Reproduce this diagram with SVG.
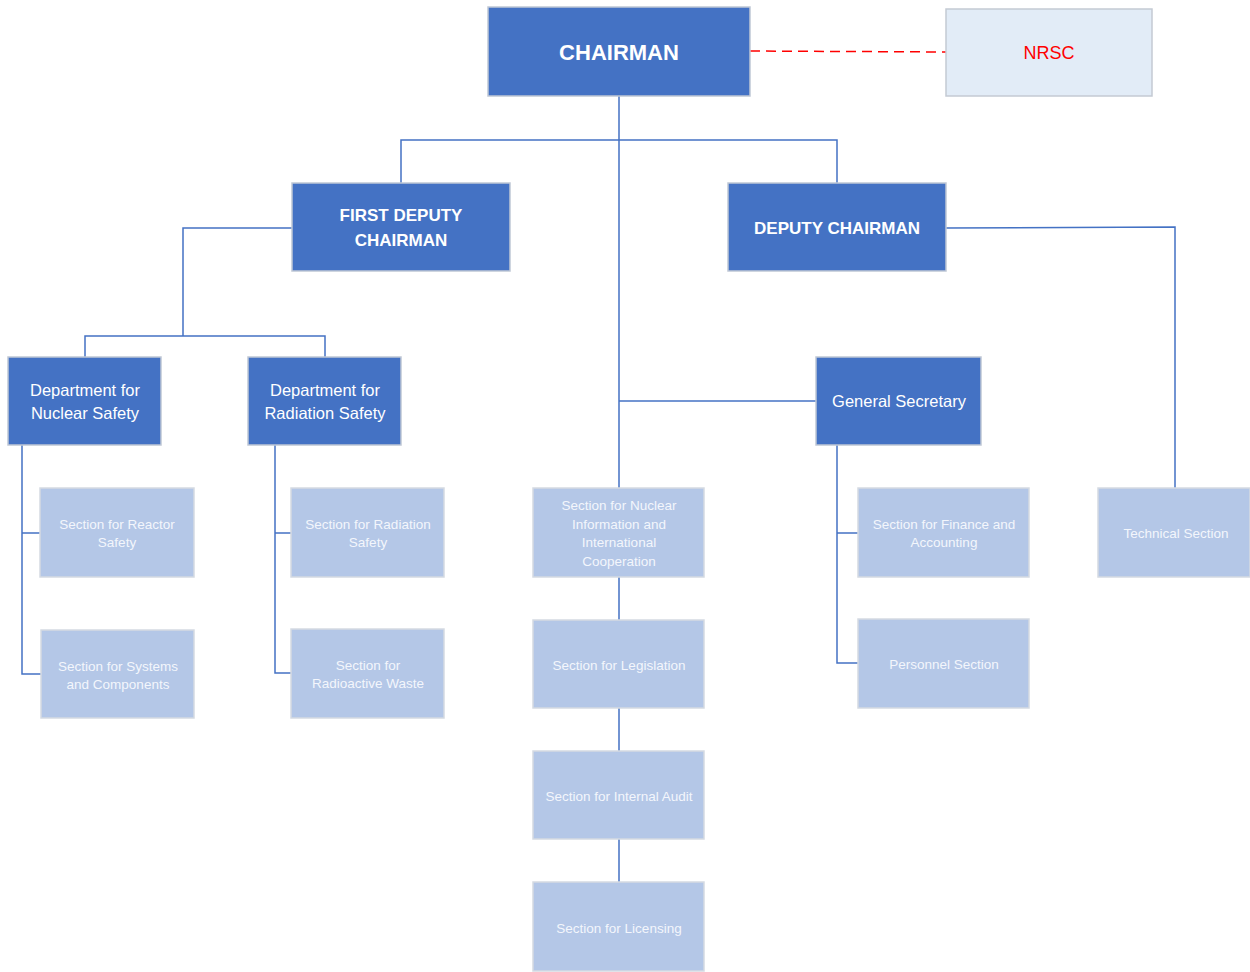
<svg xmlns="http://www.w3.org/2000/svg" width="1250" height="972" viewBox="0 0 1250 972">
<style>
.dark{fill:#4472C4;stroke:#BFC7D5;stroke-width:1.5}
.light{fill:#B4C7E7;stroke:#D5DAE2;stroke-width:1.5}
.nrsc{fill:#E2ECF7;stroke:#C4CAD3;stroke-width:1.5}
.tb{font-family:"Liberation Sans",Arial,sans-serif;font-weight:bold;fill:#FFFFFF;text-anchor:middle}
.tm{font-family:"Liberation Sans",Arial,sans-serif;font-size:16.5px;fill:#FFFFFF;text-anchor:middle}
.ts{font-family:"Liberation Sans",Arial,sans-serif;font-size:13.5px;fill:#F3F6FC;text-anchor:middle}
.conn{fill:none;stroke:#4472C4;stroke-width:1.5}
</style>
<g id="connectors">
<path class="conn" d="M619,96 V488 M401,183 V140 H837 V183"/>
<path class="conn" d="M946,228 L1175,227 V488"/>
<path class="conn" d="M292,228 H183 V336 M85,357 V336 H325 V357"/>
<path class="conn" d="M619,401 H816"/>
<path class="conn" d="M22,445 V674 H41 M22,533 H40"/>
<path class="conn" d="M275,445 V673 H291 M275,533 H291"/>
<path class="conn" d="M837,445 V663 H858 M837,533 H858"/>
<path class="conn" d="M619,577 V620 M619,708 V751 M619,839 V882"/>
<path fill="none" stroke="#FF0000" stroke-width="1.5" stroke-dasharray="10,6" d="M750,51 L946,52"/>
</g>
<g id="chairman"><rect class="dark" x="488" y="7" width="262" height="89"/><text class="tb" x="619" y="60" font-size="22">CHAIRMAN</text></g>
<g id="nrsc"><rect class="nrsc" x="946" y="9" width="206" height="87"/><text x="1049" y="59" font-family="Liberation Sans,Arial,sans-serif" font-size="18" fill="#FF0000" text-anchor="middle">NRSC</text></g>
<g id="first-deputy"><rect class="dark" x="292" y="183" width="218" height="88"/><text class="tb" font-size="17" x="401" y="221">FIRST DEPUTY</text><text class="tb" font-size="17" x="401" y="246">CHAIRMAN</text></g>
<g id="deputy"><rect class="dark" x="728" y="183" width="218" height="88"/><text class="tb" font-size="17" x="837" y="234">DEPUTY CHAIRMAN</text></g>
<g id="dept-nuclear"><rect class="dark" x="8" y="357" width="153" height="88"/><text class="tm" x="85" y="396">Department for</text><text class="tm" x="85" y="419">Nuclear Safety</text></g>
<g id="dept-radiation"><rect class="dark" x="248" y="357" width="153" height="88"/><text class="tm" x="325" y="396">Department for</text><text class="tm" x="325" y="419">Radiation Safety</text></g>
<g id="gen-sec"><rect class="dark" x="816" y="357" width="165" height="88"/><text class="tm" x="899" y="407">General Secretary</text></g>
<g id="reactor"><rect class="light" x="40" y="488" width="154" height="89"/><text class="ts" x="117" y="529">Section for Reactor</text><text class="ts" x="117" y="547">Safety</text></g>
<g id="systems"><rect class="light" x="41" y="630" width="153" height="88"/><text class="ts" x="118" y="671">Section for Systems</text><text class="ts" x="118" y="689">and Components</text></g>
<g id="rad-safety"><rect class="light" x="291" y="488" width="153" height="89"/><text class="ts" x="368" y="529">Section for Radiation</text><text class="ts" x="368" y="547">Safety</text></g>
<g id="rad-waste"><rect class="light" x="291" y="629" width="153" height="89"/><text class="ts" x="368" y="670">Section for</text><text class="ts" x="368" y="688">Radioactive Waste</text></g>
<g id="nuclear-info"><rect class="light" x="533" y="488" width="171" height="89"/><text class="ts" x="619" y="510">Section for Nuclear</text><text class="ts" x="619" y="529">Information and</text><text class="ts" x="619" y="547">International</text><text class="ts" x="619" y="566">Cooperation</text></g>
<g id="legislation"><rect class="light" x="533" y="620" width="171" height="88"/><text class="ts" x="619" y="670">Section for Legislation</text></g>
<g id="audit"><rect class="light" x="533" y="751" width="171" height="88"/><text class="ts" x="619" y="801">Section for Internal Audit</text></g>
<g id="licensing"><rect class="light" x="533" y="882" width="171" height="89"/><text class="ts" x="619" y="933">Section for Licensing</text></g>
<g id="finance"><rect class="light" x="858" y="488" width="171" height="89"/><text class="ts" x="944" y="529">Section for Finance and</text><text class="ts" x="944" y="547">Accounting</text></g>
<g id="personnel"><rect class="light" x="858" y="619" width="171" height="89"/><text class="ts" x="944" y="669">Personnel Section</text></g>
<g id="technical"><rect class="light" x="1098" y="488" width="152" height="89"/><text class="ts" x="1176" y="538">Technical Section</text></g>
</svg>
